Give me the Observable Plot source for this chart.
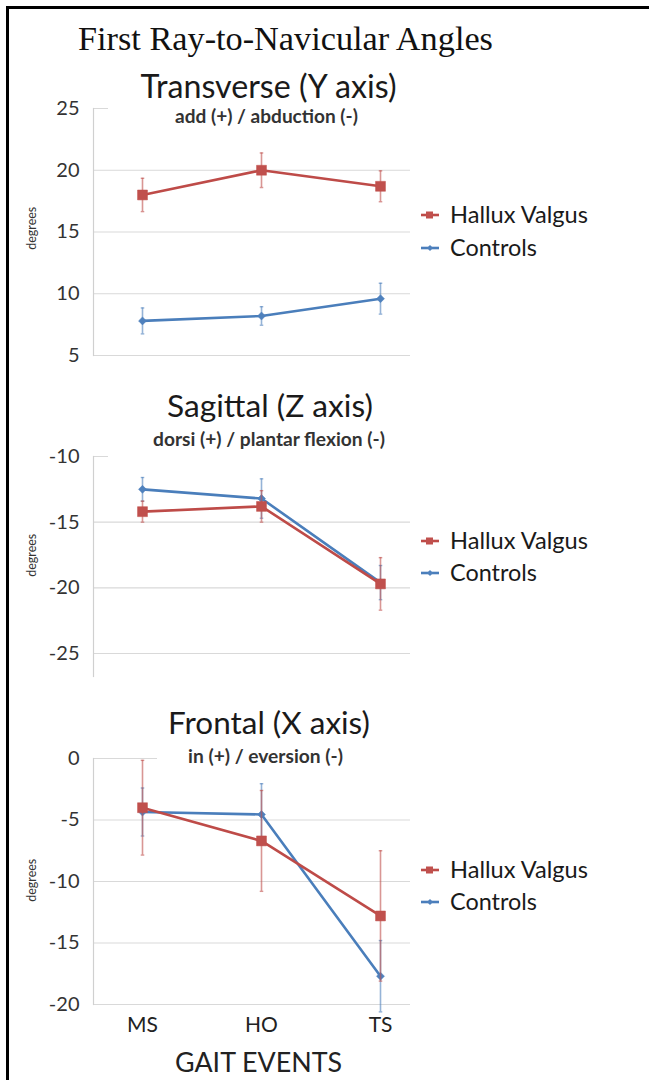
<!DOCTYPE html>
<html><head><meta charset="utf-8">
<script src="https://cdn.jsdelivr.net/npm/d3@7"></script>
<script src="https://cdn.jsdelivr.net/npm/@observablehq/plot@0.6"></script>
<style>
body{margin:0;background:#fff;}
#wrap{position:relative;width:649px;height:1080px;overflow:hidden;background:#fff;}
.abs{position:absolute;white-space:nowrap;}
.plot{position:absolute;left:0;}
</style></head><body><div id="wrap"></div>
<script>
// ---- data ----
const events = ["MS", "HO", "TS"];
const groups = ["Hallux Valgus", "Controls"];

const transverseHV = [18.0, 20.0, 18.7];
const transverseHVsd = [1.35, 1.4, 1.25];
const transverseCtrl = [7.8, 8.2, 9.6];
const transverseCtrlSd = [1.05, 0.75, 1.25];
const transverseTicks = [5, 10, 15, 20, 25];

const sagittalHV = [-14.2, -13.8, -19.7];
const sagittalHVsd = [0.8, 1.2, 2.0];
const sagittalCtrl = [-12.5, -13.2, -19.6];
const sagittalCtrlSd = [0.9, 1.5, 1.3];
const sagittalTicks = [-25, -20, -15, -10];

const frontalHV = [-4.0, -6.7, -12.8];
const frontalHVsd = [3.85, 4.1, 5.3];
const frontalCtrl = [-4.35, -4.55, -17.7];
const frontalCtrlSd = [1.95, 2.5, 2.9];
const frontalTicks = [-20, -15, -10, -5, 0];

// ---- style ----
const RED = "#BE4B48", BLUE = "#4A7EBB";
const RED_M = "#C0504D", BLUE_M = "#4F81BD";
const SANS = "Lato, 'Open Sans', sans-serif";
const wrap = document.getElementById("wrap");

const capSymbol = {draw(ctx, size){ const w = Math.sqrt(size)/2; ctx.moveTo(-w,0); ctx.lineTo(w,0); }};

function rowsOf(hv, hvsd, c, csd){
  const rows = [];
  events.forEach((e,i)=>rows.push({event:e, group:"Controls", mean:c[i], lo:c[i]-csd[i], hi:c[i]+csd[i]}));
  events.forEach((e,i)=>rows.push({event:e, group:"Hallux Valgus", mean:hv[i], lo:hv[i]-hvsd[i], hi:hv[i]+hvsd[i]}));
  return rows;
}

function panel({top, height, mt, mb, domain, ticks, rows, xaxis}){
  const ctrl = rows.filter(d=>d.group==="Controls");
  const hv = rows.filter(d=>d.group==="Hallux Valgus");
  const marks = [
    Plot.ruleY(ticks, {stroke:"#d9d9d9", strokeWidth:1.2}),
    Plot.frame({anchor:"left", stroke:"#d0d0d0", strokeWidth:1.2}),
    Plot.axisY({ticks, tickSize:0, tickPadding:14, fontSize:20, color:"#333", fontFamily:SANS, label:null, tickFormat:d=>String(d)}),
  ];
  if (xaxis) marks.push(Plot.axisX({tickSize:0, tickPadding:13, fontSize:21, color:"#222", fontFamily:SANS, label:null}));
  else marks.push(Plot.axisX({ticks:[], label:null}));
  for (const [data, lc, mc, sym, r] of [[ctrl, BLUE, BLUE_M, "diamond2", 3.6], [hv, RED, RED_M, "square", 5.6]]) {
    marks.push(
      Plot.ruleX(data, {x:"event", y1:"lo", y2:"hi", stroke:mc, strokeOpacity:0.6, strokeWidth:1.6}),
      Plot.dot(data, {x:"event", y:"lo", symbol:capSymbol, r:2, stroke:mc, strokeOpacity:0.6, strokeWidth:1.4}),
      Plot.dot(data, {x:"event", y:"hi", symbol:capSymbol, r:2, stroke:mc, strokeOpacity:0.6, strokeWidth:1.4}),
      Plot.line(data, {x:"event", y:"mean", stroke:lc, strokeWidth:2.6}),
      Plot.dot(data, {x:"event", y:"mean", symbol:sym, r, fill:mc, stroke:mc, strokeWidth:0.5})
    );
  }
  const svg = Plot.plot({
    width:649, height, marginLeft:93, marginRight:239, marginTop:mt, marginBottom:mb,
    x:{type:"point", domain:events, range:[141, 380], padding:0},
    y:{domain},
    style:{fontFamily:SANS, background:"transparent"},
    marks
  });
  svg.classList.add("plot");
  svg.style.top = top + "px";
  wrap.appendChild(svg);
}

panel({top:95, height:275, mt:13, mb:15, domain:[5,25], ticks:transverseTicks,
  rows:rowsOf(transverseHV, transverseHVsd, transverseCtrl, transverseCtrlSd)});
panel({top:440, height:250, mt:16, mb:14, domain:[-26.75,-10], ticks:sagittalTicks,
  rows:rowsOf(sagittalHV, sagittalHVsd, sagittalCtrl, sagittalCtrlSd)});
panel({top:740, height:300, mt:18, mb:36, domain:[-20,0], ticks:frontalTicks,
  rows:rowsOf(frontalHV, frontalHVsd, frontalCtrl, frontalCtrlSd), xaxis:true});

// masks where the chart title boxes cover the top gridline
function mask(x, y, w){ const m=document.createElement("div"); m.className="abs";
  Object.assign(m.style,{left:x+"px",top:(y-2)+"px",width:w+"px",height:"4px",background:"#fff"}); wrap.appendChild(m); }
mask(108,108,305); mask(108,456,305); mask(157,758,256);

// text helper: fit to target width, centred at (cx, cy)
function addText(str, {cx, cy, left, w, family=SANS, weight=400, color="#222", rotate=false, size=20}){
  const d=document.createElement("div"); d.className="abs"; d.textContent=str;
  Object.assign(d.style,{fontFamily:family,fontWeight:weight,color,fontSize:size+"px",lineHeight:"1"});
  wrap.appendChild(d);
  const mw = d.getBoundingClientRect().width;
  if (w) { d.style.fontSize = (size*w/mw)+"px"; }
  const r = d.getBoundingClientRect();
  const x0 = left!==undefined ? left : cx - r.width/2;
  if (rotate) {
    d.style.left=(cx - r.width/2)+"px"; d.style.top=(cy - r.height/2)+"px"; d.style.transform="rotate(-90deg)";
  } else { d.style.left=x0+"px"; d.style.top=(cy - r.height/2)+"px"; }
  return d;
}

addText("First Ray-to-Navicular Angles",{cx:285.5, cy:38, w:415, family:"'Liberation Serif', 'DejaVu Serif', serif", size:31, color:"#111"});
addText("Transverse (Y axis)",{cx:268.5, cy:86, w:256, size:28, color:"#1a1a1a"});
addText("add (+) / abduction (-)",{cx:266.5, cy:115.5, w:183, size:15, weight:700, color:"#333"});
addText("Sagittal (Z axis)",{cx:270, cy:406, w:206, size:28, color:"#1a1a1a"});
addText("dorsi (+) / plantar flexion (-)",{cx:269, cy:438.5, w:232, size:15, weight:700, color:"#333"});
addText("Frontal (X axis)",{cx:269, cy:723, w:202, size:28, color:"#1a1a1a"});
addText("in (+) / eversion (-)",{cx:265.5, cy:755.5, w:155, size:15, weight:700, color:"#333"});
addText("GAIT EVENTS",{cx:258.5, cy:1062, w:167, size:26, color:"#222"});
for (const cy of [228, 555, 880]) addText("degrees",{cx:33, cy, size:12.5, color:"#333", rotate:true});

// legends
function legend(cy1, cy2){
  const items = [[groups[0], RED, RED_M, "sq", cy1], [groups[1], BLUE, BLUE_M, "di", cy2]];
  for (const [label, lc, mc, sym, cy] of items) {
    const s=document.createElementNS("http://www.w3.org/2000/svg","svg");
    s.setAttribute("width",22); s.setAttribute("height",14);
    Object.assign(s.style,{position:"absolute",left:"419px",top:(cy-7)+"px"});
    const mark = sym==="sq" ? `<rect x="7" y="3.5" width="7" height="7" fill="${mc}"/>` : `<path d="M11,4 L14,7 L11,10 L8,7Z" fill="${mc}"/>`;
    s.innerHTML = `<line x1="2" x2="20" y1="7" y2="7" stroke="${lc}" stroke-width="2.6"/>${mark}`;
    wrap.appendChild(s);
    addText(label,{left:450, cx:0, cy, w: label===groups[0]?138:87, size:20, color:"#1a1a1a"});
  }
}
legend(215, 248); legend(541, 573); legend(870, 902);

// frame border (top and left)
for (const st of [{left:"6px",top:"6px",width:"643px",height:"2.5px"},{left:"6px",top:"6px",width:"2.5px",height:"1074px"}]) {
  const b=document.createElement("div"); b.className="abs"; Object.assign(b.style, st, {background:"#000"}); wrap.appendChild(b);
}
</script></body></html>
